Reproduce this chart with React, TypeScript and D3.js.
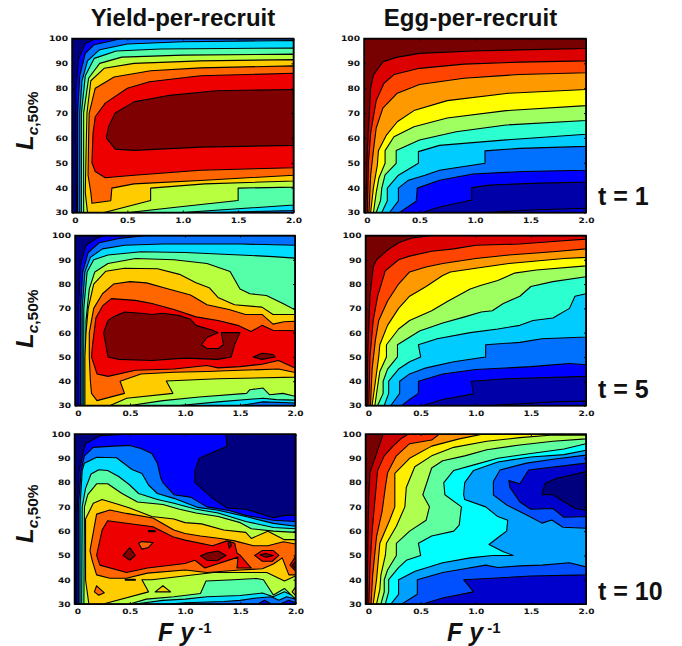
import { useEffect, useRef } from "react";
import * as d3 from "d3";

type Pt = [number, number];
type Region = [number, Pt[]];

// contour bands as [F, Lc] polygons; first number is the colour index
const YIELD_COLORS = ["#00007f", "#0000ff", "#0070ff", "#00dcff", "#55ffaa", "#b8ff40", "#ffcc00", "#ff6600", "#ee0000", "#7f0000"];
const EGG_COLORS = ["#0000a8", "#0000cc", "#0000ff", "#0070ff", "#00ccff", "#2cffd0", "#9fff60", "#ffff00", "#ff9900", "#ff4400", "#dd0000", "#770000"];
const EGG10_COLORS = ["#0000cc", "#00007f", "#0050ff", "#00a0ff", "#00ffff", "#60ffa0", "#b0ff50", "#ffee00", "#ff9000", "#ff3000", "#cc0000", "#770000"];

const yieldT1: Region[] = [
  [1, [[.04, 30], [.035, 60], [.035, 80], [.06, 92], [.12, 98], [.2, 99.6], [.3, 100], [2, 100], [2, 30]]],
  [2, [[.05, 30], [.05, 70], [.07, 85], [.12, 94], [.2, 97.5], [.35, 99], [.45, 100], [2, 100], [2, 30]]],
  [3, [[.07, 30], [.07, 70], [.09, 83], [.14, 91], [.25, 95.5], [.5, 97.8], [1, 98.7], [2, 99.2], [2, 30.8], [1.3, 30]]],
  [4, [[.085, 30], [.085, 70], [.12, 85], [.2, 92], [.4, 95], [.8, 95.8], [2, 96.2], [2, 33], [1, 30]]],
  [5, [[.105, 30], [.105, 70], [.15, 84], [.25, 90], [.45, 92.5], [1, 93.3], [2, 93.7], [2, 40.2], [1.5, 39.8], [1.5, 34.8], [1, 32.4], [.51, 30]]],
  [6, [[.14, 30], [.12, 38], [.125, 50], [.13, 60], [.135, 70], [.17, 83], [.29, 88], [.56, 90], [1.16, 91], [2, 91.5], [2, 42.7], [1.2, 41.5], [.71, 39.8], [.71, 34.8], [.29, 30]]],
  [7, [[.18, 33.7], [.17, 38], [.145, 45], [.15, 60], [.155, 70], [.21, 80], [.38, 84.5], [.71, 87], [1.16, 88.2], [2, 89], [2, 45], [1.2, 43], [.56, 41.5], [.36, 39.8], [.35, 34.7]]],
  [8, [[.18, 50], [.19, 62], [.21, 68.5], [.3, 74], [.5, 80], [.7, 82.6], [1.16, 85], [2, 86], [2, 48], [1.16, 47], [.56, 45], [.3, 44], [.21, 46.5]]],
  [9, [[.31, 60], [.33, 64.5], [.39, 70], [.56, 74.5], [.86, 77], [1.3, 79], [2, 79.5], [2, 57], [1.16, 56.3], [.56, 55], [.39, 55.5]]],
];

const yieldT5: Region[] = [
  [1, [[.03, 30], [.03, 70], [.05, 88], [.1, 96], [.2, 99], [.27, 100], [2, 100], [2, 30]]],
  [2, [[.05, 30], [.05, 70], [.07, 85], [.12, 93], [.22, 97], [.4, 98.8], [.65, 100], [2, 100], [2, 30]]],
  [3, [[.065, 30], [.065, 70], [.09, 85], [.14, 91], [.25, 94.5], [.45, 96], [.8, 96.5], [1.5, 96.5], [2, 96], [2, 31], [1.71, 31.5], [1.5, 30]]],
  [4, [[.08, 30], [.08, 70], [.11, 85], [.17, 90], [.3, 92], [.6, 93.3], [1, 93], [1.5, 92], [1.8, 91.3], [2, 90.7], [2, 32.2], [1.83, 32.4], [1.71, 33], [1.3, 31.5], [.95, 30]]],
  [5, [[.1, 30], [.1, 65], [.13, 78], [.18, 85], [.3, 88.5], [.55, 90.5], [.9, 90], [1.2, 88.5], [1.41, 85.2], [1.5, 78], [1.59, 76], [1.74, 75.3], [1.89, 72], [2, 69.4], [2, 33.8], [1.89, 35], [1.77, 34.4], [1.71, 37.2], [1.59, 36.5], [1.56, 35], [1.13, 33.5], [.8, 32], [.5, 30]]],
  [6, [[.09, 30], [.09, 50], [.1, 60], [.12, 70], [.17, 80], [.28, 85.3], [.45, 86.5], [.75, 86.3], [.95, 84], [1.1, 80.5], [1.22, 78.5], [1.3, 74.5], [1.45, 71.5], [1.7, 70.5], [1.8, 67.5], [2, 67.5], [2, 41.7], [1.3, 41], [.83, 40.1], [.89, 35], [.47, 33], [.32, 30]]],
  [7, [[.14, 40], [.13, 50], [.13, 60], [.17, 70], [.25, 76], [.35, 80], [.5, 81], [.65, 80.5], [.85, 78], [1.05, 75.5], [1.2, 71.5], [1.4, 69.5], [1.55, 67.5], [1.7, 67.5], [1.8, 63.5], [1.9, 64.5], [2, 64.7], [2, 43.6], [1.85, 45], [1.5, 44.5], [1.2, 44], [.9, 43.7], [.6, 43], [.41, 40], [.45, 35], [.2, 32], [.15, 35]]],
  [8, [[.15, 50], [.16, 55], [.19, 66], [.25, 71], [.33, 74], [.55, 73.3], [.7, 72], [.9, 69.5], [1.1, 66.5], [1.3, 65], [1.48, 63], [1.6, 60.5], [1.7, 63], [1.8, 61], [2, 60.8], [2, 45.4], [1.85, 48.5], [1.7, 47], [1.5, 46], [1.3, 45.5], [1.2, 46.5], [.9, 45], [.55, 44.5], [.3, 42], [.2, 43]]],
  [9, [[.3, 50], [.26, 60], [.3, 65], [.35, 66.5], [.45, 68.5], [.6, 68], [.7, 67.5], [.8, 68], [.95, 67], [1.05, 65.5], [1.1, 63], [1.25, 61], [1.3, 60], [1.2, 58], [1.15, 55], [1.2, 53.5], [1.3, 53.5], [1.35, 55], [1.33, 60], [1.5, 60], [1.45, 55], [1.42, 50], [1.3, 49], [1, 49.5], [.7, 48.5], [.4, 49]]],
  [9, [[1.62, 50], [1.7, 51.5], [1.8, 51], [1.82, 50], [1.7, 49]]],
];

const yieldT10: Region[] = [
  [1, [[.02, 30], [.02, 65], [.04, 85], [.1, 96], [.23, 99.3], [.5, 100], [1.37, 100], [1.38, 95], [1.13, 90], [1.09, 85], [1.09, 80], [1.25, 73.5], [1.38, 69.5], [1.55, 69], [1.8, 65.5], [1.9, 66.5], [2, 66.5], [2, 30]]],
  [2, [[.035, 30], [.035, 70], [.06, 85], [.09, 91], [.17, 94.5], [.35, 95], [.5, 95.3], [.6, 94], [.7, 92], [.75, 88], [.78, 82], [.8, 80], [.9, 75], [1.05, 74], [1.2, 70], [1.4, 68.5], [1.55, 66.5], [1.8, 64.5], [2, 64], [2, 30.5], [1.94, 31.5], [1.86, 30], [1.78, 30], [1.72, 31.5], [1.66, 30]]],
  [3, [[.05, 30], [.05, 70], [.07, 85], [.09, 88], [.2, 90.4], [.38, 90.2], [.52, 85.4], [.61, 83.7], [.67, 79], [.75, 75.5], [.9, 73.5], [1.11, 69.8], [1.29, 68.7], [1.56, 65.9], [1.8, 63.2], [2, 62], [2, 32], [1.92, 33], [1.85, 31.5], [1.78, 33], [1.65, 32.5], [1.5, 31.5], [1.35, 31], [1, 30.5], [.85, 30]]],
  [4, [[.065, 30], [.07, 70], [.1, 77.6], [.15, 83.5], [.22, 85.3], [.3, 85], [.4, 82.5], [.5, 79], [.58, 75.5], [.75, 73], [.9, 71.5], [1.1, 69], [1.3, 67.5], [1.55, 64], [1.8, 61.5], [2, 61], [2, 33], [1.9, 35], [1.8, 33], [1.7, 34.5], [1.5, 33.5], [1.2, 33], [1, 32], [.8, 31.5], [.55, 30]]],
  [5, [[.085, 30], [.09, 70], [.12, 75], [.2, 79.5], [.3, 79.5], [.43, 75.5], [.57, 72], [.8, 71], [.95, 69], [1.1, 67.5], [1.3, 66], [1.5, 63.5], [1.6, 61], [1.8, 60], [2, 59.5], [2, 32], [1.9, 36.4], [1.8, 33.7], [1.71, 40], [1.65, 40.5], [1.44, 40], [1.19, 39.5], [1.14, 34.3], [.9, 33], [.65, 32], [.5, 30]]],
  [6, [[.13, 30], [.1, 40], [.1, 65], [.17, 71.5], [.25, 73], [.4, 71], [.5, 69.5], [.7, 66], [.9, 65], [1, 63.5], [1.15, 63], [1.35, 60.5], [1.55, 59.5], [1.6, 57], [1.75, 60], [1.9, 56.5], [2, 56.5], [2, 41.5], [1.9, 39.5], [1.74, 43], [1.44, 43], [1.26, 43], [.99, 41.5], [.7, 40], [.61, 40], [.67, 35], [.26, 30]]],
  [6, [[.8, 37.5], [.73, 35], [.87, 35]]],
  [6, [[1.97, 35], [2, 37], [2, 33.5]]],
  [7, [[.16, 48], [.14, 52], [.2, 67], [.32, 68.7], [.47, 67.3], [.71, 65.4], [.9, 60.5], [1, 59], [1.14, 58], [1.32, 57], [1.45, 56], [1.62, 54], [1.75, 54], [1.89, 55.6], [2, 54.7], [2, 42], [1.94, 42], [1.88, 49], [1.8, 46.5], [1.7, 44.5], [1.5, 44], [1.2, 43], [1, 44], [.66, 42.7], [.47, 40.6], [.32, 40.6], [.2, 42]]],
  [7, [[.18, 35], [.2, 37.5], [.27, 34.6], [.22, 33.6]]],
  [7, [[.46, 39.8], [.55, 39.8], [.55, 40.2], [.46, 40.2]]],
  [8, [[.2, 50], [.25, 60.5], [.3, 64.3], [.71, 61.8], [.89, 57.7], [1, 56.3], [1.25, 54], [1.38, 56], [1.45, 55], [1.47, 51], [1.5, 50], [1.6, 44.8], [1.47, 44.8], [1.48, 49.3], [1.18, 44.8], [1.09, 48], [1, 46.7], [.66, 44.8], [.47, 43], [.23, 46]]],
  [8, [[1.63, 50], [1.7, 52], [1.8, 52], [1.85, 50], [1.79, 47.6], [1.7, 47.6]]],
  [8, [[1.95, 46], [2, 49.5], [2, 43.5]]],
  [7, [[.58, 55], [.61, 55.7], [.71, 55.3], [.67, 53.3], [.61, 52.6]]],
  [9, [[.44, 50], [.5, 53.2], [.55, 50], [.5, 48]]],
  [9, [[1.14, 49.8], [1.2, 51], [1.3, 51.8], [1.37, 50], [1.29, 47.8], [1.2, 48]]],
  [9, [[1.39, 55], [1.41, 55.7], [1.42, 54], [1.4, 53]]],
  [9, [[1.68, 50.3], [1.73, 50.8], [1.8, 50], [1.73, 49.2]]],
  [9, [[1.97, 46], [2, 47.5], [2, 44.5]]],
  [9, [[.67, 59.8], [.73, 59.8], [.73, 60.2], [.67, 60.2]]],
];

// egg panels: each curve bounds the area up and to the left of it
const eggT1: Region[] = [
  [1, [[1.1, 30], [1.5, 31], [2, 31.7], [2, 30]]],
  [2, topLeft([[.53, 30], [.68, 32.2], [.97, 35], [.97, 40], [1.13, 41], [1.5, 41.7], [2, 42.2]])],
  [3, topLeft([[.32, 30], [.47, 34.5], [.48, 39.8], [.68, 43], [.98, 45.5], [1.43, 46.5], [2, 47]])],
  [4, topLeft([[.23, 30], [.31, 34.7], [.31, 39.8], [.4, 43], [.55, 45], [.68, 47], [1.09, 49.8], [1.09, 54.8], [1.4, 55.8], [2, 56.6]])],
  [5, topLeft([[.16, 30], [.21, 34.7], [.21, 39.8], [.31, 45], [.49, 49.8], [.49, 54.5], [.68, 57], [1.28, 59.2], [2, 61.5]])],
  [6, topLeft([[.11, 30], [.15, 35], [.16, 39.8], [.19, 45.1], [.29, 49.8], [.29, 54.9], [.5, 59.2], [.83, 62.5], [1.28, 65.2], [2, 67]])],
  [7, topLeft([[.085, 30], [.11, 38], [.135, 44], [.19, 49.8], [.19, 54.9], [.27, 60.5], [.45, 64.5], [.75, 68], [1.28, 71], [2, 73]])],
  [8, topLeft([[.06, 30], [.085, 40], [.12, 49], [.13, 54.8], [.2, 61], [.3, 66.5], [.45, 71], [.75, 75], [1.3, 78], [2, 79.5]])],
  [9, topLeft([[.045, 30], [.06, 45], [.085, 55], [.11, 64], [.17, 72], [.3, 78], [.5, 81.5], [.9, 84], [1.4, 85.5], [2, 86.2]])],
  [10, topLeft([[.03, 30], [.04, 50], [.06, 62], [.11, 75], [.18, 82], [.27, 85.5], [.5, 88], [.9, 89.7], [1.4, 90.5], [2, 91]])],
  [11, topLeft([[.015, 30], [.03, 55], [.06, 80], [.085, 85.3], [.17, 90.6], [.29, 92.4], [.5, 94], [.98, 95], [2, 96]])],
];

const eggT5: Region[] = [
  [1, [[1.13, 30], [1.7, 31.5], [2, 31.8], [2, 30]]],
  [2, topLeft([[.52, 30], [.7, 32.5], [.98, 34.8], [.96, 40], [1.28, 41], [2, 42]])],
  [3, topLeft([[.33, 30], [.4, 32.5], [.48, 35], [.48, 40], [.7, 43], [1, 44.8], [1.5, 46], [1.85, 47.3], [2, 46.8]])],
  [4, topLeft([[.23, 30], [.31, 35], [.31, 40], [.4, 43], [.55, 45.5], [.8, 48], [1.09, 50], [1.09, 55], [1.4, 56], [1.6, 57.5], [2, 58.2]])],
  [5, topLeft([[.17, 30], [.21, 35], [.21, 40], [.3, 45], [.4, 48], [.5, 50], [.48, 55], [.65, 57.5], [.95, 60], [1.2, 61.5], [1.4, 63], [1.52, 65], [1.7, 66], [1.85, 70], [1.9, 75], [2, 76]])],
  [6, topLeft([[.11, 30], [.16, 35], [.16, 40], [.2, 45], [.29, 50], [.29, 55], [.49, 60.7], [.7, 64], [.9, 66.5], [1.05, 68.5], [1.15, 69], [1.25, 72], [1.4, 75], [1.5, 79], [1.7, 81], [2, 83]])],
  [7, topLeft([[.085, 30], [.11, 38], [.13, 44], [.19, 50], [.19, 55], [.3, 61.5], [.4, 65], [.6, 69], [.75, 73], [.95, 78], [1.05, 79.5], [1.2, 81.5], [1.35, 84.5], [1.55, 85.8], [2, 87.5]])],
  [8, topLeft([[.06, 30], [.09, 40], [.12, 50], [.13, 55], [.2, 63], [.3, 70], [.4, 75], [.55, 79], [.7, 83.5], [.77, 85], [1, 86.5], [1.3, 88.5], [1.55, 89.5], [1.8, 90.5], [2, 91]])],
  [9, topLeft([[.045, 30], [.06, 45], [.09, 57], [.12, 65], [.2, 73], [.3, 80], [.4, 85], [.55, 87], [.7, 88.5], [1, 90.5], [1.3, 92], [1.7, 93.3], [2, 94.5]])],
  [10, topLeft([[.03, 30], [.04, 50], [.07, 65], [.11, 75], [.18, 85.5], [.3, 90], [.4, 91.5], [.6, 93.5], [.8, 94.5], [1, 96], [1.4, 96.5], [1.7, 97.5], [2, 98.5]])],
  [11, topLeft([[.015, 30], [.02, 50], [.04, 75], [.07, 87], [.1, 90], [.2, 94], [.3, 97], [.42, 99], [.6, 100]])],
];

const eggT10: Region[] = [
  [2, topLeft([[.52, 30], [.7, 32.5], [.98, 35], [.89, 40], [1.5, 41.5], [2, 42], [2, 66], [1.8, 65.7], [1.7, 69.3], [1.5, 69], [1.4, 72], [1.31, 78], [1.3, 80.8], [1.4, 79.5], [1.48, 85.2], [2, 88]])],
  [1, [[1.6, 75], [1.63, 79.7], [1.73, 81.7], [2, 84.5], [2, 68.6], [1.9, 69.3], [1.7, 75]]],
  [3, topLeft([[.33, 30], [.47, 34], [.47, 40], [.7, 43], [.9, 44.5], [1.09, 46], [1.2, 45], [1.4, 45.7], [1.6, 46], [1.85, 47], [2, 45.3], [2, 61.2], [1.79, 61.6], [1.69, 64.6], [1.6, 63.3], [1.48, 66.2], [1.28, 70.8], [1.16, 74.9], [1.16, 80.4], [1.22, 85.2], [1.46, 88], [1.7, 89.6], [2, 91.3]])],
  [4, topLeft([[.23, 30], [.3, 34], [.3, 40], [.45, 43.5], [.7, 47], [.95, 49], [1.15, 50], [1.34, 50], [1.25, 51.5], [1.12, 54.5], [1.22, 58], [1.28, 60], [1.29, 64.5], [1.2, 66], [1.09, 70], [.9, 73], [.89, 75], [.9, 80], [.98, 85], [1.2, 88.5], [1.5, 90.5], [1.8, 91.5], [2, 93.3]])],
  [5, topLeft([[.18, 30], [.21, 35], [.21, 40], [.3, 45], [.37, 48], [.5, 50], [.48, 55], [.6, 58], [.8, 60], [.85, 62.5], [.87, 70], [.72, 75], [.71, 80], [.8, 85], [1, 87.5], [1.2, 90], [1.5, 92], [1.8, 93.8], [2, 96]])],
  [6, topLeft([[.14, 30], [.17, 35], [.17, 40], [.2, 44], [.28, 50], [.28, 55], [.4, 60], [.55, 64.5], [.58, 70], [.52, 75], [.6, 86], [.7, 89], [.9, 91], [1.1, 93.5], [1.4, 95.5], [1.7, 97], [2, 98]])],
  [7, topLeft([[.1, 30], [.13, 36], [.14, 42], [.18, 50], [.19, 55], [.28, 62], [.357, 70], [.37, 78], [.447, 86.5], [.6, 91], [.8, 94.5], [1.1, 97], [1.4, 98.5], [1.7, 99.6], [2, 99.5]])],
  [8, topLeft([[.07, 30], [.1, 40], [.12, 50], [.13, 55], [.22, 64.6], [.266, 70], [.266, 83.8], [.4, 90], [.6, 95], [.85, 98], [1.07, 100]])],
  [9, topLeft([[.05, 30], [.065, 42], [.1, 57.7], [.15, 68], [.18, 78], [.2, 84], [.28, 91], [.4, 96], [.6, 97.5], [.67, 100]])],
  [10, topLeft([[.03, 30], [.04, 45], [.06, 60], [.09, 75], [.11, 85], [.17, 91], [.25, 95], [.32, 98], [.39, 100]])],
  [11, topLeft([[.015, 30], [.02, 50], [.03, 75], [.04, 84], [.115, 94], [.16, 100]])],
];

function topLeft(curve: Pt[]): Pt[] {
  return [...curve, [2, 100], [0, 100], [0, 30]];
}

const F_TICKS = [0, 0.5, 1, 1.5, 2];
const L_TICKS = [30, 40, 50, 60, 70, 80, 90, 100];
const ROW_LABELS = ["t = 1", "t = 5", "t = 10"];

const panels = [
  { regions: yieldT1, colors: YIELD_COLORS, x: [72, 293.5], y: [212.5, 38.5] },
  { regions: eggT1, colors: EGG_COLORS, x: [364, 586], y: [212.5, 38.5] },
  { regions: yieldT5, colors: YIELD_COLORS, x: [75, 295], y: [405.5, 235.5] },
  { regions: eggT5, colors: EGG_COLORS, x: [365.5, 586], y: [405.5, 235.5] },
  { regions: yieldT10, colors: YIELD_COLORS, x: [74.5, 295.5], y: [604, 434] },
  { regions: eggT10, colors: EGG10_COLORS, x: [365.5, 586], y: [604, 434] },
];

const BOLD = "'Liberation Sans', Arial, sans-serif";

export default function App() {
  const ref = useRef<SVGSVGElement>(null);

  useEffect(() => {
    const svg = d3.select(ref.current);
    svg.selectAll("*").remove();

    panels.forEach((p, i) => {
      const x = d3.scaleLinear().domain([0, 2]).range(p.x);
      const y = d3.scaleLinear().domain([30, 100]).range(p.y);
      const line = d3.line<Pt>().x((d) => x(d[0])).y((d) => y(d[1]));
      const id = `clip${i}`;

      svg.append("clipPath").attr("id", id).append("rect")
        .attr("x", p.x[0]).attr("y", p.y[1])
        .attr("width", p.x[1] - p.x[0]).attr("height", p.y[0] - p.y[1]);

      const g = svg.append("g").attr("clip-path", `url(#${id})`);
      g.append("rect")
        .attr("x", p.x[0]).attr("y", p.y[1])
        .attr("width", p.x[1] - p.x[0]).attr("height", p.y[0] - p.y[1])
        .attr("fill", p.colors[0]);
      g.selectAll("path").data(p.regions).join("path")
        .attr("d", (d) => line(d[1]) + "Z")
        .attr("fill", (d) => p.colors[d[0]])
        .attr("stroke", "#000")
        .attr("stroke-width", 1.1)
        .attr("stroke-linejoin", "round");

      // ticks point inward on all four sides
      const bottom = svg.append("g").attr("transform", `translate(0,${p.y[0]})`)
        .call(d3.axisBottom(x).tickValues(F_TICKS).tickSize(-2).tickSizeOuter(0).tickPadding(5)
          .tickFormat((d) => (d === 0 ? "0" : d3.format(".1f")(d as number))));
      const left = svg.append("g").attr("transform", `translate(${p.x[0]},0)`)
        .call(d3.axisLeft(y).tickValues(L_TICKS).tickSize(-2).tickSizeOuter(0).tickPadding(4));
      svg.append("g").attr("transform", `translate(${p.x[1]},0)`)
        .call(d3.axisRight(y).tickValues(L_TICKS).tickSize(-2).tickSizeOuter(0).tickFormat(() => ""));
      svg.append("g").attr("transform", `translate(0,${p.y[1]})`)
        .call(d3.axisTop(x).tickValues(F_TICKS).tickSize(-2).tickSizeOuter(0).tickFormat(() => ""));

      // the reference's tick digits are wide and flat, so stretch them to its widths
      [bottom, left].forEach((a) =>
        a.selectAll<SVGTextElement, unknown>("text")
          .attr("font-family", "'DejaVu Sans', sans-serif")
          .attr("font-weight", "bold")
          .attr("font-size", 7.5)
          .attr("fill", "#111")
          .attr("lengthAdjust", "spacingAndGlyphs")
          .attr("textLength", function () {
            const s = this.textContent ?? "";
            return s.length === 3 ? (s.includes(".") ? 16 : 19) : s.length * 6.3;
          }));
      bottom.selectAll("text").filter((d) => d === 0).attr("dx", 3);

      svg.append("rect")
        .attr("x", p.x[0]).attr("y", p.y[1])
        .attr("width", p.x[1] - p.x[0]).attr("height", p.y[0] - p.y[1])
        .attr("fill", "none").attr("stroke", "#000").attr("stroke-width", 1.5);
    });

    const label = (tx: number, ty: number, s: string, size: number, anchor = "start") =>
      svg.append("text").attr("x", tx).attr("y", ty)
        .attr("font-family", BOLD).attr("font-weight", "bold")
        .attr("font-size", size).attr("text-anchor", anchor).attr("fill", "#111").text(s);

    label(183, 26, "Yield-per-recruit", 24, "middle");
    label(470.5, 26, "Egg-per-recruit", 24, "middle");
    label(598, 205, ROW_LABELS[0], 25);
    label(598, 398, ROW_LABELS[1], 25);
    label(598, 600, ROW_LABELS[2], 25);

    [150, 348, 543].forEach((cy) => {
      const t = svg.append("text")
        .attr("transform", `translate(33,${cy}) rotate(-90)`)
        .attr("font-family", BOLD).attr("font-weight", "bold").attr("fill", "#111");
      t.append("tspan").attr("font-style", "italic").attr("font-size", 24).text("L");
      t.append("tspan").attr("font-style", "italic").attr("font-size", 15.5).attr("dy", 5).text("c");
      t.append("tspan").attr("font-size", 15.5).text(",50%");
    });

    [158, 447].forEach((lx) => {
      const t = svg.append("text").attr("x", lx).attr("y", 641)
        .attr("font-family", BOLD).attr("font-weight", "bold").attr("fill", "#111");
      t.append("tspan").attr("font-style", "italic").attr("font-size", 25).text("F y");
      t.append("tspan").attr("font-size", 15).attr("dy", -8).text(" -1");
    });
  }, []);

  return <svg ref={ref} width={682} height={646} style={{ position: "absolute", left: 0, top: 0 }} />;
}
